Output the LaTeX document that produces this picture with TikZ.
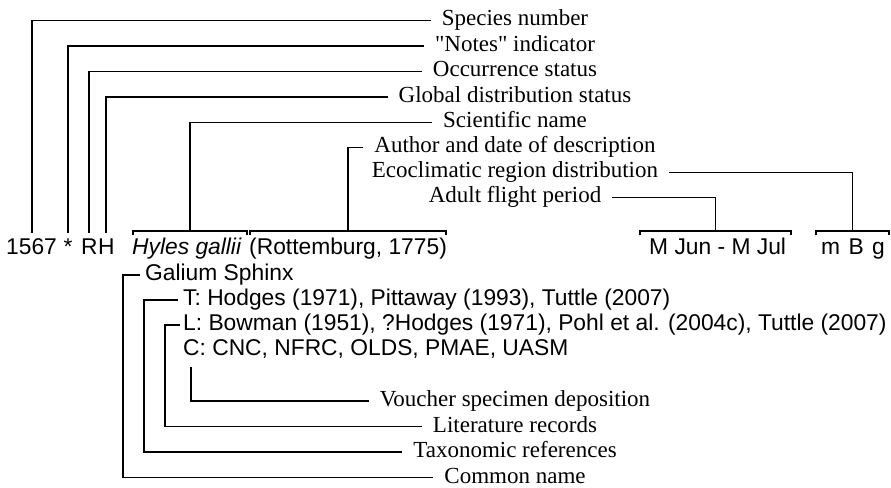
\documentclass[tikz,border=0pt]{standalone}
\usepackage{fontspec}
\setmainfont{Liberation Serif}
\setsansfont{Liberation Sans}
\newfontfamily\lblfam{Liberation Serif}
\newcommand\rowfont{\sffamily\fontsize{22.8bp}{25bp}\selectfont}
\newcommand\lblfont{\lblfam\fontsize{23bp}{25bp}\selectfont}
\begin{document}
\begin{tikzpicture}[x=1bp,y=-1bp,
  ln/.style={line width=1.9bp, line cap=butt, line join=miter},
  lbl/.style={font=\lblfont, inner xsep=11bp, inner ysep=0pt, text height=11bp, text depth=0pt, anchor=center},
  toprow/.style={font=\rowfont, inner xsep=0pt, inner ysep=6bp, text height=16bp, text depth=0pt, anchor=base west},
  subrow/.style={font=\rowfont, inner sep=0pt, text height=12bp, text depth=0pt, anchor=base west},
  brk/.style={inner sep=0pt, minimum height=4bp},
]
\useasboundingbox (0,0) rectangle (891,488);

% top row of the entry
\node[toprow] (num) at (6,255) {1567};
\node[toprow] (star) at (63.5,255) {*};
\node[toprow] (R) at (81,255) {R};
\node[toprow] (H) at (R.base east) {H};
\node[toprow, font=\rowfont\itshape] (sci) at (132,255) {Hyles gallii};
\node[toprow] (auth) at (249,255) {(Rottemburg, 1775)};
\node[toprow] (fl) at (649,255) {M Jun - M Jul};
\node[toprow] (eco) at (821,255) {m\hspace{2bp} B\hspace{2bp} g};

% brackets
\node[brk, minimum width=114bp] (bSci) at (190,233) {};
\node[brk, minimum width=196bp] (bAuth) at (348,233) {};
\node[brk, minimum width=151bp] (bFl) at (715.5,233) {};
\node[brk, minimum width=73bp] (bEco) at (852.5,233) {};
\foreach \b in {bSci,bAuth,bFl,bEco}
  \draw[ln] (\b.south west) -- (\b.north west) -- (\b.north east) -- (\b.south east);

% lower rows
\node[subrow] (gs) at (145,281) {Galium Sphinx};
\node[subrow] (tT) at (183,306) {T: Hodges (1971), Pittaway (1993), Tuttle (2007)};
\node[subrow] (tL) at (183,331) {L: Bowman (1951), ?Hodges (1971), Pohl et al. (2004c), Tuttle (2007)};
\node[subrow] (tC) at (183,356) {C: CNC, NFRC, OLDS, PMAE, UASM};

% labels
\node[lbl] (lSp) at (515,20.5) {Species number};
\node[lbl] (lNo) at (515,46) {"Notes" indicator};
\node[lbl] (lOc) at (515,71.5) {Occurrence status};
\node[lbl] (lGl) at (515,97) {Global distribution status};
\node[lbl] (lSc) at (515,122.5) {Scientific name};
\node[lbl] (lAu) at (515,147.5) {Author and date of description};
\node[lbl] (lEc) at (515,172.5) {Ecoclimatic region distribution};
\node[lbl] (lAd) at (515,197.5) {Adult flight period};
\node[lbl] (lVo) at (515,401) {Voucher specimen deposition};
\node[lbl] (lLi) at (515,426.5) {Literature records};
\node[lbl] (lTx) at (515,452) {Taxonomic references};
\node[lbl] (lCn) at (515,477.5) {Common name};

% connectors
\draw[ln] (lSp.west) -| (num.north);
\draw[ln] (lNo.west) -| (star.north);
\draw[ln] (lOc.west) -| (R.north);
\draw[ln] (lGl.west) -| (H.north);
\draw[ln] (lSc.west) -| (bSci.north);
\draw[ln] (lAu.west) -| (bAuth.north);
\draw[ln] (lEc.east) -| (bEco.north);
\draw[ln] (lAd.east) -| (bFl.north);
\draw[ln] ([xshift=-5bp]gs.west) -- ++(-17,0) |- (lCn.west);
\draw[ln] ([xshift=-5bp]tT.west) -- ++(-34,0) |- (lTx.west);
\draw[ln] ([xshift=-3bp]tL.west) -- ++(-15,0) |- (lLi.west);
\draw[ln] ([shift={(8,11)}]tC.base west) |- (lVo.west);
\end{tikzpicture}
\end{document}
